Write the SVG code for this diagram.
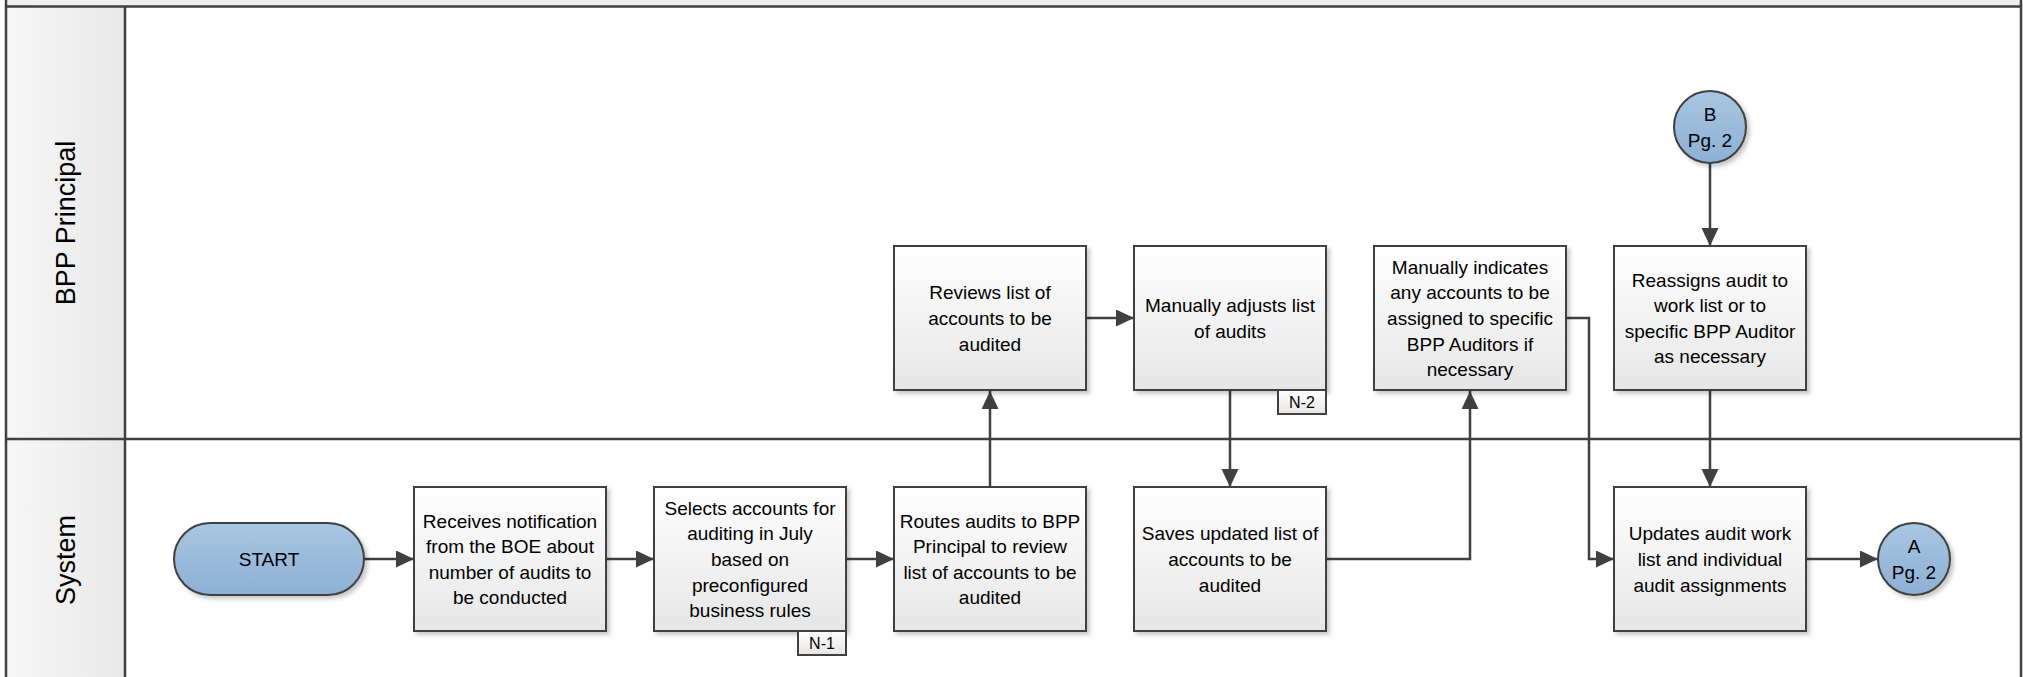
<svg xmlns="http://www.w3.org/2000/svg" width="2023" height="677" viewBox="0 0 2023 677">
<defs>
<linearGradient id="gBox" x1="0" y1="0" x2="0" y2="1"><stop offset="0" stop-color="#ffffff"/><stop offset="1" stop-color="#e6e6e6"/></linearGradient>
<linearGradient id="gBlue" x1="0" y1="0" x2="0" y2="1"><stop offset="0" stop-color="#a9c6e1"/><stop offset="1" stop-color="#8db0d5"/></linearGradient>
<linearGradient id="gHead" x1="0" y1="0" x2="1" y2="0"><stop offset="0" stop-color="#f7f7f7"/><stop offset="1" stop-color="#e8e8e8"/></linearGradient>
<filter id="sh" x="-10%" y="-10%" width="130%" height="130%"><feDropShadow dx="3" dy="3" stdDeviation="2" flood-color="#000" flood-opacity="0.22"/></filter>
<marker id="arr" markerUnits="userSpaceOnUse" markerWidth="18" markerHeight="18" refX="18" refY="8.5" orient="auto"><path d="M0,0 L18,8.5 L0,17 z" fill="#404040"/></marker>
<style>
.box{fill:url(#gBox);stroke:#404040;stroke-width:2;filter:url(#sh)}
.blue{fill:url(#gBlue);stroke:#404040;stroke-width:2;filter:url(#sh)}
.tag{fill:url(#gBox);stroke:#404040;stroke-width:2}
.t{font-family:"Liberation Sans",Arial,sans-serif;font-size:19px;fill:#000;text-anchor:middle;dominant-baseline:central}
.ts{font-family:"Liberation Sans",Arial,sans-serif;font-size:16px;fill:#000;text-anchor:middle;dominant-baseline:central}
.lane{font-family:"Liberation Sans",Arial,sans-serif;font-size:27px;fill:#000;text-anchor:middle;dominant-baseline:central}
.ln{fill:none;stroke:#404040;stroke-width:2.5}
.con{fill:none;stroke:#404040;stroke-width:2.5;marker-end:url(#arr)}
</style>
</defs>
<g id="pool">
<rect x="0" y="0" width="2023" height="677" fill="#ffffff"/>
<rect x="6" y="0" width="2015" height="6" fill="#efefef"/>
<rect x="6" y="6" width="119" height="671" fill="url(#gHead)"/>
<path class="ln" d="M6 0 V677 M2021 0 V677 M6 6.5 H2021 M125 6 V677 M6 439 H2021"/>
<text class="lane" transform="translate(66 223) rotate(-90)">BPP Principal</text>
<text class="lane" transform="translate(66 560) rotate(-90)">System</text>
</g>
<g id="connectors">
<path class="con" d="M364 559 H414"/>
<path class="con" d="M606 559 H654"/>
<path class="con" d="M846 559 H894"/>
<path class="con" d="M990 487 V391"/>
<path class="con" d="M1086 318 H1134"/>
<path class="con" d="M1230 390 V487"/>
<path class="con" d="M1326 559 H1470 V391"/>
<path class="con" d="M1566 318 H1589 V559 H1614"/>
<path class="con" d="M1710 163 V246"/>
<path class="con" d="M1710 390 V487"/>
<path class="con" d="M1806 559 H1878"/>
</g>
<g id="start">
<rect class="blue" x="174" y="523" width="190" height="72" rx="36" ry="36"/>
<text class="t" x="269" y="559">START</text>
</g>
<g id="n1">
<rect class="box" x="414" y="487" width="192" height="144"/>
<text class="t"><tspan x="510" y="520.6">Receives notification</tspan><tspan x="510" y="546.2">from the BOE about</tspan><tspan x="510" y="571.8">number of audits to</tspan><tspan x="510" y="597.4">be conducted</tspan></text>
</g>
<g id="n2">
<rect class="box" x="654" y="487" width="192" height="144"/>
<text class="t"><tspan x="750" y="507.8">Selects accounts for</tspan><tspan x="750" y="533.4">auditing in July</tspan><tspan x="750" y="559">based on</tspan><tspan x="750" y="584.6">preconfigured</tspan><tspan x="750" y="610.2">business rules</tspan></text>
<rect class="tag" x="798" y="631" width="48" height="24"/>
<text class="ts" x="822" y="643">N-1</text>
</g>
<g id="n3">
<rect class="box" x="894" y="487" width="192" height="144"/>
<text class="t"><tspan x="990" y="520.6">Routes audits to BPP</tspan><tspan x="990" y="546.2">Principal to review</tspan><tspan x="990" y="571.8">list of accounts to be</tspan><tspan x="990" y="597.4">audited</tspan></text>
</g>
<g id="n4">
<rect class="box" x="894" y="246" width="192" height="144"/>
<text class="t"><tspan x="990" y="292.4">Reviews list of</tspan><tspan x="990" y="318">accounts to be</tspan><tspan x="990" y="343.6">audited</tspan></text>
</g>
<g id="n5">
<rect class="box" x="1134" y="246" width="192" height="144"/>
<text class="t"><tspan x="1230" y="305.2">Manually adjusts list</tspan><tspan x="1230" y="330.8">of audits</tspan></text>
<rect class="tag" x="1278" y="390" width="48" height="24"/>
<text class="ts" x="1302" y="402">N-2</text>
</g>
<g id="n6">
<rect class="box" x="1134" y="487" width="192" height="144"/>
<text class="t"><tspan x="1230" y="533.4">Saves updated list of</tspan><tspan x="1230" y="559">accounts to be</tspan><tspan x="1230" y="584.6">audited</tspan></text>
</g>
<g id="n7">
<rect class="box" x="1374" y="246" width="192" height="144"/>
<text class="t"><tspan x="1470" y="266.8">Manually indicates</tspan><tspan x="1470" y="292.4">any accounts to be</tspan><tspan x="1470" y="318">assigned to specific</tspan><tspan x="1470" y="343.6">BPP Auditors if</tspan><tspan x="1470" y="369.2">necessary</tspan></text>
</g>
<g id="n8">
<rect class="box" x="1614" y="246" width="192" height="144"/>
<text class="t"><tspan x="1710" y="279.6">Reassigns audit to</tspan><tspan x="1710" y="305.2">work list or to</tspan><tspan x="1710" y="330.8">specific BPP Auditor</tspan><tspan x="1710" y="356.4">as necessary</tspan></text>
</g>
<g id="n9">
<rect class="box" x="1614" y="487" width="192" height="144"/>
<text class="t"><tspan x="1710" y="533.4">Updates audit work</tspan><tspan x="1710" y="559">list and individual</tspan><tspan x="1710" y="584.6">audit assignments</tspan></text>
</g>
<g id="offB">
<circle class="blue" cx="1710" cy="127" r="36"/>
<text class="t"><tspan x="1710" y="114">B</tspan><tspan x="1710" y="140">Pg. 2</tspan></text>
</g>
<g id="offA">
<circle class="blue" cx="1914" cy="559" r="36"/>
<text class="t"><tspan x="1914" y="546">A</tspan><tspan x="1914" y="572">Pg. 2</tspan></text>
</g>
</svg>
